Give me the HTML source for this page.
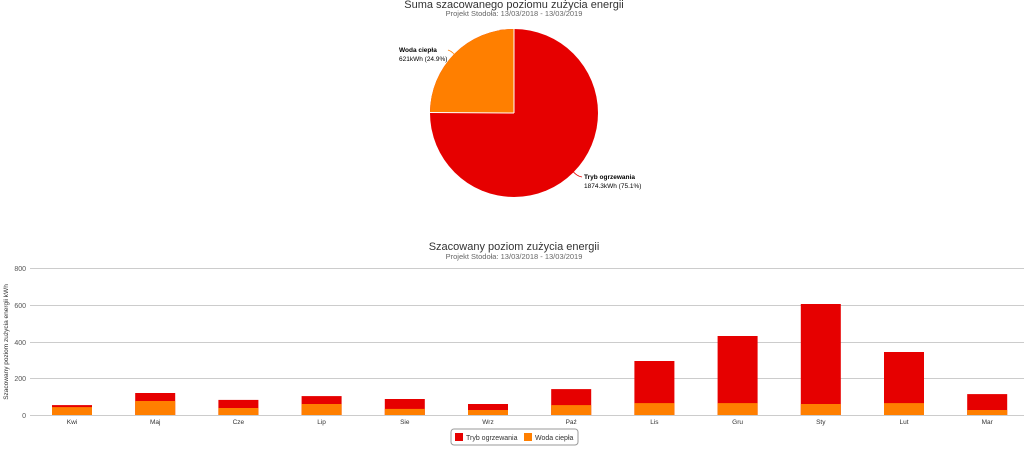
<!DOCTYPE html>
<html><head><meta charset="utf-8"><style>
html,body{margin:0;padding:0;background:#fff;width:1024px;height:454px;overflow:hidden}
text{font-family:"Liberation Sans",sans-serif}
</style></head><body>
<svg width="1024" height="454" viewBox="0 0 1024 454" xmlns="http://www.w3.org/2000/svg">
<text x="514" y="8" text-anchor="middle" font-size="11" fill="#333">Suma szacowanego poziomu zużycia energii</text>
<text x="514" y="16" text-anchor="middle" font-size="7.5" fill="#666">Projekt Stodoła: 13/03/2018 - 13/03/2019</text>
<circle cx="514" cy="113" r="84" fill="#e60000"/>
<path d="M514,113 L514,29 A84,84 0 0,0 430,112.5 Z" fill="#ff7f00"/>
<line x1="514" y1="29" x2="514" y2="113" stroke="#fff" stroke-width="1"/>
<line x1="430" y1="112.5" x2="514" y2="113" stroke="#fff" stroke-width="1"/>
<path d="M448,50 Q454,52 456,58" stroke="#ff7f00" fill="none" stroke-width="0.8"/>
<text x="399" y="52" font-size="6.5" font-weight="bold" fill="#000">Woda ciepła</text>
<text x="399" y="61" font-size="6.5" fill="#000">621kWh (24.9%)</text>
<path d="M572,170 Q576,176 582,177" stroke="#e60000" fill="none" stroke-width="0.8"/>
<text x="584" y="179" font-size="6.5" font-weight="bold" fill="#000">Tryb ogrzewania</text>
<text x="584" y="188" font-size="6.5" fill="#000">1874.3kWh (75.1%)</text>

<text x="514" y="250" text-anchor="middle" font-size="11" fill="#333">Szacowany poziom zużycia energii</text>
<text x="514" y="259" text-anchor="middle" font-size="7.5" fill="#666">Projekt Stodoła: 13/03/2018 - 13/03/2019</text>
<g stroke="#ccc" stroke-width="1">
<line x1="30" y1="268.5" x2="1024" y2="268.5"/>
<line x1="30" y1="305.5" x2="1024" y2="305.5"/>
<line x1="30" y1="342.5" x2="1024" y2="342.5"/>
<line x1="30" y1="378.5" x2="1024" y2="378.5"/>
<line x1="30" y1="415.5" x2="1024" y2="415.5"/>
</g>
<g font-size="7" fill="#555" text-anchor="end">
<text x="26" y="271">800</text><text x="26" y="308">600</text><text x="26" y="345">400</text><text x="26" y="381">200</text><text x="26" y="418">0</text>
</g>
<text transform="translate(8,342) rotate(-90)" text-anchor="middle" font-size="6.5" fill="#333">Szacowany poziom zużycia energii kWh</text>
<g fill="#e60000">
<rect x="52" y="405.1" width="40" height="9.9"/>
<rect x="135.2" y="393" width="40" height="22"/>
<rect x="218.4" y="399.9" width="40" height="15.1"/>
<rect x="301.6" y="396.1" width="40" height="18.9"/>
<rect x="384.8" y="399" width="40" height="16"/>
<rect x="468" y="404" width="40" height="11"/>
<rect x="551.2" y="389.1" width="40" height="25.9"/>
<rect x="634.4" y="361" width="40" height="54"/>
<rect x="717.6" y="336" width="40" height="79"/>
<rect x="800.8" y="304" width="40" height="111"/>
<rect x="884" y="352" width="40" height="63"/>
<rect x="967.2" y="394.1" width="40" height="20.9"/>
</g>
<g fill="#ff7f00">
<rect x="52" y="407.1" width="40" height="7.9"/>
<rect x="135.2" y="401" width="40" height="14"/>
<rect x="218.4" y="408" width="40" height="7"/>
<rect x="301.6" y="404" width="40" height="11"/>
<rect x="384.8" y="408.9" width="40" height="6.1"/>
<rect x="468" y="410" width="40" height="5"/>
<rect x="551.2" y="405.1" width="40" height="9.9"/>
<rect x="634.4" y="403.1" width="40" height="11.9"/>
<rect x="717.6" y="403.1" width="40" height="11.9"/>
<rect x="800.8" y="404" width="40" height="11"/>
<rect x="884" y="403.1" width="40" height="11.9"/>
<rect x="967.2" y="410" width="40" height="5"/>
</g>
<g font-size="6.5" fill="#333" text-anchor="middle">
<text x="72" y="424">Kwi</text><text x="155.2" y="424">Maj</text><text x="238.4" y="424">Cze</text><text x="321.6" y="424">Lip</text><text x="404.8" y="424">Sie</text><text x="488" y="424">Wrz</text><text x="571.2" y="424">Paź</text><text x="654.4" y="424">Lis</text><text x="737.6" y="424">Gru</text><text x="820.8" y="424">Sty</text><text x="904" y="424">Lut</text><text x="987.2" y="424">Mar</text>
</g>
<rect x="451" y="429" width="127" height="16" rx="3" fill="#fff" stroke="#999"/>
<rect x="455" y="433" width="8" height="8" fill="#e60000"/>
<text x="466" y="440" font-size="7" fill="#333">Tryb ogrzewania</text>
<rect x="524" y="433" width="8" height="8" fill="#ff7f00"/>
<text x="535" y="440" font-size="7" fill="#333">Woda ciepła</text>
</svg>
</body></html>
